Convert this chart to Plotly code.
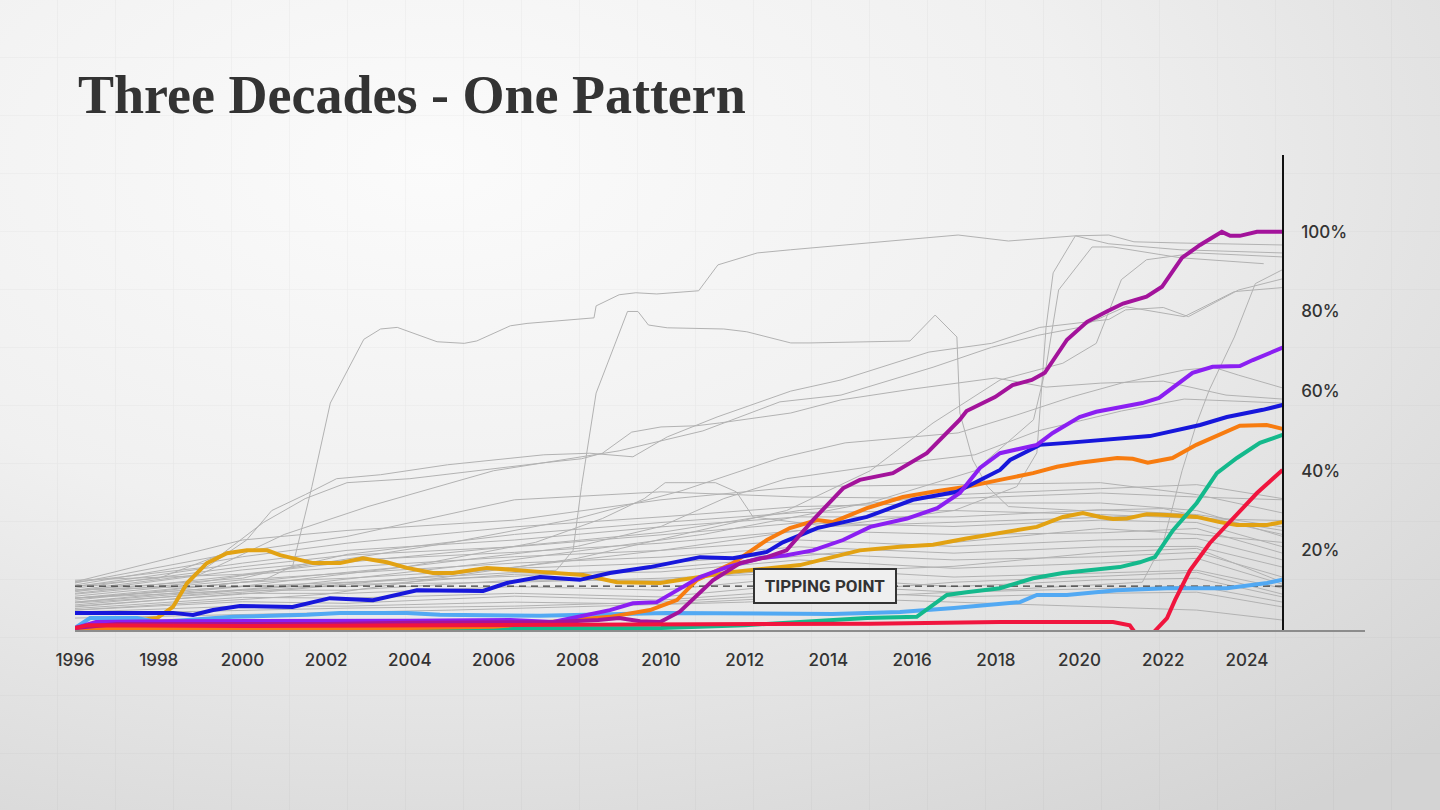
#!/usr/bin/env python3
"""Three decades of adoption curves, one highlighted pattern."""
from __future__ import annotations

import base64

import plotly.graph_objects as go

# ---- highlighted series (year, percent) ---------------------------------
MAGENTA_X = [1996, 1997, 1998, 1999, 2000, 2002, 2004, 2006, 2007.5, 2008.5, 2009.0, 2009.5,
             2009.98, 2010.45, 2011.24, 2011.89, 2012.53, 2013.0, 2013.63, 2014.35, 2014.75,
             2015.54, 2016.35, 2017.14, 2017.3, 2017.98, 2018.4, 2018.86, 2019.17, 2019.7,
             2020.18, 2020.65, 2021.04, 2021.6, 2021.97, 2022.45, 2022.88, 2023.4, 2023.6,
             2023.83, 2024.24, 2024.85]
MAGENTA_Y = [0.5, 1.5, 1.5, 1.5, 1.5, 1.5, 1.8, 1.8, 2.0, 2.5, 3.0, 2.2,
             2.0, 4.6, 12.5, 16.8, 18.3, 20.0, 27.6, 35.6, 37.7,
             39.4, 44.4, 52.8, 55.0, 58.5, 61.5, 62.8, 64.6, 72.9,
             77.4, 80.0, 82.0, 83.7, 86.2, 93.5, 96.7, 100.0, 99.0,
             99.0, 100.0, 100.0]

VIOLET_X = [1996, 1996.5, 1998, 2000, 2004, 2006.4, 2007.42, 2008.78, 2009.33, 2009.9, 2010.38,
            2010.93, 2011.58, 2012.36, 2013.0, 2013.63, 2014.35, 2015.0, 2015.88, 2016.6,
            2017.14, 2017.62, 2018.1, 2018.98, 2019.36, 2020.0, 2020.4, 2020.95, 2021.5,
            2021.9, 2022.7, 2023.18, 2023.83, 2024.14, 2024.85]
VIOLET_Y = [0.5, 2.0, 2.2, 2.2, 2.3, 2.5, 2.0, 5.0, 6.7, 7.0, 10.0,
            13.3, 15.8, 18.0, 18.8, 20.0, 22.6, 25.9, 28.0, 30.6,
            34.4, 40.7, 44.4, 46.5, 49.5, 53.5, 54.8, 55.8, 57.0,
            58.3, 64.6, 66.1, 66.3, 67.8, 70.9]

BLUE_X = [1996, 1998.34, 1998.82, 1999.3, 1999.94, 2001.2, 2002.09, 2003.12, 2004.17, 2005.75,
          2006.32, 2007.11, 2008.06, 2008.78, 2009.74, 2010.29, 2010.93, 2011.72, 2012.53,
          2012.91, 2013.73, 2014.92, 2016.02, 2017.07, 2018.1, 2018.34, 2019.05, 2019.7,
          2021.68, 2022.88, 2023.52, 2024.38, 2024.85]
BLUE_Y = [4.3, 4.3, 3.8, 5.0, 6.0, 5.8, 8.0, 7.5, 10.0, 9.8,
          11.8, 13.3, 12.6, 14.3, 15.8, 17.0, 18.3, 18.0, 19.6,
          22.0, 25.6, 28.4, 32.7, 34.7, 40.2, 42.7, 46.5, 47.0,
          48.7, 51.5, 53.5, 55.3, 56.5]

ORANGE_X = [1996, 2000, 2004, 2006, 2007.42, 2008.78, 2009.74, 2010.38, 2010.86, 2011.72,
            2012.53, 2013.08, 2013.73, 2014.1, 2014.92, 2015.78, 2016.5, 2017.3, 2018.1,
            2018.89, 2019.46, 2020.0, 2020.9, 2021.27, 2021.63, 2022.22, 2022.79, 2023.34,
            2023.83, 2024.47, 2024.85]
ORANGE_Y = [0.3, 0.3, 0.5, 0.8, 2.0, 3.3, 5.0, 7.5, 12.6, 16.8,
            22.6, 25.6, 27.6, 27.1, 30.6, 33.4, 34.7, 36.0, 37.7,
            39.4, 41.0, 42.0, 43.2, 43.0, 42.0, 43.2, 46.5, 49.0,
            51.3, 51.5, 50.5]

TEAL_X = [1996, 2004, 2010, 2012, 2013.32, 2014.92, 2016.11, 2016.83, 2017.3, 2018.1, 2018.89,
          2019.6, 2020.96, 2021.44, 2021.8, 2022.23, 2022.8, 2023.28, 2023.76, 2024.31, 2024.85]
TEAL_Y = [0.2, 0.3, 0.5, 1.2, 2.0, 3.0, 3.3, 8.8, 9.5, 10.5, 13.0,
          14.3, 15.8, 17.0, 18.3, 25.0, 31.9, 39.4, 43.2, 47.0, 49.0]

RED_X = [1996, 1996.3, 2000, 2005, 2010, 2015, 2018.1, 2020.8, 2021.2, 2021.45, 2021.6,
         2022.09, 2022.28, 2022.64, 2023.11, 2023.66, 2024.24, 2024.85]
RED_Y = [0.5, 1.2, 1.0, 1.2, 1.3, 1.6, 2.0, 2.0, 1.2, -2.5, -2.5,
         3.0, 7.5, 15.0, 21.8, 28.0, 34.4, 40.2]

GOLD_X = [1996, 1997.96, 1998.34, 1998.68, 1999.15, 1999.63, 2000.11, 2000.59, 2000.9, 2001.69,
          2002.33, 2002.88, 2003.45, 2003.93, 2004.55, 2005.03, 2005.84, 2006.32, 2007.11,
          2008.14, 2008.95, 2009.98, 2010.52, 2011.72, 2013.32, 2014.1, 2014.75, 2015.71,
          2016.5, 2017.3, 2018.1, 2018.98, 2019.6, 2020.08, 2020.49, 2020.8, 2021.13,
          2021.61, 2022.09, 2022.8, 2023.35, 2023.76, 2024.48, 2024.85]
GOLD_Y = [0.5, 3.0, 5.8, 11.8, 16.8, 19.3, 20.0, 20.0, 18.8, 16.8,
          16.8, 18.0, 17.0, 15.6, 14.3, 14.3, 15.6, 15.3, 14.6,
          13.8, 12.0, 11.8, 12.6, 14.6, 16.3, 18.3, 20.0, 20.9,
          21.4, 23.0, 24.4, 25.9, 28.4, 29.4, 28.4, 27.9, 28.0,
          29.1, 28.9, 28.4, 27.1, 26.4, 26.4, 27.1]

SKY_X = [1996, 1996.36, 1997.48, 1997.96, 1998.68, 1999.77, 2001.54, 2002.33, 2003.93, 2004.72,
         2007.11, 2008.5, 2010.14, 2014.1, 2015.71, 2017.0, 2018.1, 2018.58, 2018.98, 2019.7,
         2020.89, 2022.09, 2023.52, 2024.48, 2024.85]
SKY_Y = [0.5, 3.0, 3.0, 2.0, 2.5, 3.3, 3.8, 4.3, 4.3, 3.8,
         3.6, 4.0, 4.3, 4.0, 4.5, 5.5, 6.7, 7.0, 8.8, 8.8,
         10.0, 10.5, 10.5, 11.8, 12.6]

# ---- background (grey) series -------------------------------------------
BAND_YEARS = [1996, 2000, 2002.5, 2006.5, 2010, 2013.3, 2017, 2020.5, 2022.8, 2024.85]
BAND_VALUES = [
    [12.1, 22.6, 25.0, 27.6, 32.7, 36.0, 36.5, 37.0, 34.0, 29.4],
    [11.8, 19.7, 23.5, 32.7, 34.7, 33.4, 33.0, 34.4, 33.4, 32.7],
    [11.3, 18.4, 21.8, 25.9, 28.4, 31.0, 31.9, 31.9, 30.0, 23.5],
    [10.9, 16.8, 20.0, 22.6, 25.9, 28.4, 28.4, 30.2, 29.0, 25.9],
    [10.5, 15.9, 18.8, 20.9, 23.9, 26.9, 26.0, 27.6, 27.0, 20.9],
    [9.6, 15.1, 17.5, 19.5, 21.8, 25.0, 24.0, 24.4, 25.5, 19.3],
    [9.2, 13.8, 15.8, 18.4, 20.0, 22.6, 21.0, 22.6, 23.0, 17.6],
    [8.5, 12.6, 14.3, 16.8, 18.3, 20.9, 19.3, 20.9, 21.0, 15.8],
    [7.5, 12.0, 13.0, 15.5, 16.8, 19.3, 17.6, 18.4, 19.5, 13.3],
    [7.0, 10.9, 10.9, 14.0, 14.6, 17.6, 15.5, 16.8, 18.0, 11.5],
    [6.3, 10.0, 10.0, 12.5, 12.5, 15.5, 13.3, 14.3, 15.0, 10.5],
    [5.8, 9.2, 9.2, 10.9, 10.0, 13.3, 10.9, 12.6, 13.0, 8.3],
    [5.4, 8.2, 8.0, 9.2, 8.3, 11.5, 9.5, 10.5, 11.0, 7.0],
    [5.0, 7.1, 6.7, 8.5, 7.5, 10.0, 8.3, 9.2, 9.5, 5.8],
    [4.5, 6.0, 6.0, 7.0, 6.5, 8.3, 7.0, 5.8, 5.0, 2.5],
    [12.5, 14.0, 17.0, 21.0, 24.5, 30.0, 34.0, 35.5, 36.5, 33.0],
    [10.0, 13.0, 19.0, 24.0, 27.0, 29.5, 30.0, 29.0, 28.0, 27.5],
    [8.0, 11.0, 12.0, 13.5, 15.5, 18.5, 22.0, 25.5, 24.0, 22.0],
    [6.8, 9.5, 11.5, 12.0, 13.0, 14.5, 16.0, 19.5, 20.5, 12.0],
    [4.0, 5.0, 5.5, 6.0, 7.0, 9.0, 12.0, 13.5, 14.5, 9.0],
]

UPPER_LINES = [
    ([1996, 1999, 2000.5, 2001.2, 2001.66, 2002.1, 2002.9, 2003.3, 2003.7, 2004.65, 2005.3, 2005.6,
      2006.4, 2006.8, 2008.4, 2008.45, 2009.0, 2009.4, 2009.9, 2010.9, 2011.36, 2012.3, 2013.1,
      2014.4, 2017.1, 2018.3, 2019.9, 2020.7, 2021.3, 2022.4, 2024.85],
     [10, 11, 12.5, 16, 36, 57, 73, 75.6, 76, 72.4, 72, 72.6,
      76.4, 77, 78.4, 81.4, 84.2, 84.7, 84.4, 85.2, 91.7, 94.7, 95.5,
      96.7, 99.2, 97.7, 99, 99.2, 97.5, 97.2, 96.7]),
    ([1996, 2000, 2004, 2007.5, 2007.9, 2008.1, 2008.45, 2009.2, 2009.45, 2009.7, 2010.15, 2011.5,
      2012.05, 2013.1, 2013.56, 2015.95, 2016.55, 2017.07, 2017.14, 2017.45, 2017.8, 2018.3,
      2020, 2022, 2024.85],
     [8, 10, 13, 15, 20, 36, 59.5, 80, 80, 76.6, 75.9, 75.6,
      74.9, 72.1, 72.1, 72.6, 79.1, 73.6, 54.5, 42.7, 36, 31,
      30, 30.5, 24]),
    ([1996, 1999.15, 2000.1, 2000.7, 2001.5, 2002.25, 2003.3, 2004.9, 2007.2, 2008.3, 2009.33,
      2010.15, 2011.34, 2013.1, 2014.3, 2016.4, 2017.9, 2019.05, 2020.7, 2021.1, 2022, 2022.6,
      2023.8, 2024.85],
     [12, 15.8, 22.6, 30, 34, 38, 39, 41.5, 44, 44.4, 43.5,
      48.5, 53.5, 60, 62.8, 69.8, 72, 76, 78, 80.4, 81, 78.7,
      85.4, 88.2]),
    ([1996, 1998, 1999.5, 2000.5, 2001.5, 2002.5, 2004, 2006.1, 2007.2, 2008.1, 2008.6, 2009.3,
      2010, 2010.85, 2011.4, 2013.1, 2014.3, 2016, 2018, 2019.2, 2020.5, 2022, 2023.5, 2024.85],
     [11, 13, 19, 27, 33, 37, 38, 40.7, 42, 43, 44.4, 49.7,
      51, 51.3, 52, 54.5, 57.8, 60.5, 63.3, 61, 62, 62.5, 59, 58]),
    ([1996, 2000, 2005, 2010, 2014, 2017, 2018.5, 2018.98, 2019.2, 2019.37, 2019.9, 2020.7,
      2022.4, 2024.85],
     [6, 9, 14, 20, 26, 30, 36, 44.5, 76, 89.7, 99, 97, 95.5, 94.7]),
    ([1996, 2001, 2006, 2011, 2015, 2017.5, 2018.9, 2019.2, 2019.5, 2020.3, 2020.8, 2022.4, 2024.4],
     [7, 11, 17, 24, 32, 40, 52.8, 66, 85.4, 96.2, 96.2, 93.5, 92]),
    ([1996, 2002, 2008, 2013, 2015, 2016.5, 2018.1, 2019.6, 2020.4, 2021.0, 2021.6, 2022.8, 2024.85],
     [5, 9, 18, 30, 40, 52, 62.8, 67, 72, 88, 93, 94.7, 93.7]),
    ([1996, 1999, 2001, 2003, 2006, 2009, 2011, 2012.84, 2014.3, 2016.5, 2017.9, 2019, 2020,
      2021.1, 2022.5, 2023.7, 2024.85],
     [10, 14, 24, 31, 40, 45, 50, 57.3, 59, 66, 71, 74, 76, 81.2, 78.7, 85, 86]),
    ([1996, 2005, 2012, 2018, 2021.5, 2022.0, 2022.45, 2022.8, 2023.1, 2023.7, 2024.2, 2024.85],
     [3, 5, 7, 10, 12, 22, 40, 52, 60.3, 73.6, 87, 90.5]),
    ([1996, 1999, 2002, 2005, 2008, 2010.5, 2012.84, 2014.4, 2017.1, 2018.5, 2019.8, 2021,
      2022.5, 2023.2, 2023.8, 2024.85],
     [9, 12, 17, 22, 28, 35, 43.2, 47, 49.5, 54, 58.5, 62, 65.3, 66, 64, 60.8]),
    ([1996, 2000, 2004, 2008, 2010, 2011.5, 2013, 2015, 2017.5, 2019, 2021, 2022.5, 2024.85],
     [8, 12, 16, 21, 26, 33, 38, 41, 44, 50, 55, 58, 57]),
    ([1996, 2000, 2004, 2007, 2008.6, 2009.6, 2010.1, 2011.3, 2011.8, 2012.2, 2014, 2017, 2020,
      2022.5, 2024.85],
     [8, 11, 16, 22, 28, 33, 37, 37, 34.7, 28.4, 26, 27, 28, 29, 25]),
]

TIPPING_POINT = 11
LAST_YEAR = 2024.85
X_TICKS = list(range(1996, 2025, 2))
Y_TICKS = [20, 40, 60, 80, 100]
Y_TICK_TEXT = ["20%", "40%", "60%", "80%", "100%"]

HIGHLIGHTS = [
    ("gold", GOLD_X, GOLD_Y, "#e2a213"),
    ("sky", SKY_X, SKY_Y, "#52a9f3"),
    ("teal", TEAL_X, TEAL_Y, "#14b98c"),
    ("orange", ORANGE_X, ORANGE_Y, "#f77c10"),
    ("blue", BLUE_X, BLUE_Y, "#1717db"),
    ("violet", VIOLET_X, VIOLET_Y, "#8b1ff2"),
    ("magenta", MAGENTA_X, MAGENTA_Y, "#a3139b"),
    ("red", RED_X, RED_Y, "#f0153e"),
]


def paper_texture() -> str:
    svg = (
        "<svg xmlns='http://www.w3.org/2000/svg' width='1440' height='810' viewBox='0 0 1440 810'>"
        "<defs><radialGradient id='g' cx='0.3' cy='0.2' r='1.0'>"
        "<stop offset='0' stop-color='#fbfbfb'/><stop offset='0.45' stop-color='#f0f0f0'/>"
        "<stop offset='1' stop-color='#d3d3d3'/></radialGradient>"
        "<pattern id='p' width='58' height='58' patternUnits='userSpaceOnUse'>"
        "<path d='M58 0 V58 H0' fill='none' stroke='#000' stroke-opacity='0.045' stroke-width='1.2'/>"
        "</pattern></defs>"
        "<rect width='1440' height='810' fill='url(#g)'/>"
        "<rect width='1440' height='810' fill='url(#p)'/></svg>"
    )
    return "data:image/svg+xml;base64," + base64.b64encode(svg.encode()).decode()


def build() -> go.Figure:
    fig = go.Figure()
    grey = dict(color="#b2b2b2", width=1)

    for values in BAND_VALUES:
        fig.add_trace(go.Scatter(x=BAND_YEARS, y=values, mode="lines", line=grey, hoverinfo="skip"))
    for xs, ys in UPPER_LINES:
        fig.add_trace(go.Scatter(x=xs, y=ys, mode="lines", line=grey, hoverinfo="skip"))

    fig.add_trace(
        go.Scatter(
            x=[1996, LAST_YEAR],
            y=[TIPPING_POINT, TIPPING_POINT],
            mode="lines",
            line=dict(color="#3a3a3a", width=1.3, dash="7px,5px"),
            hoverinfo="skip",
        )
    )

    for name, xs, ys, color in HIGHLIGHTS:
        fig.add_trace(
            go.Scatter(
                x=xs,
                y=ys,
                name=name,
                mode="lines",
                line=dict(color=color, width=4),
                hovertemplate="%{x:.1f}: %{y:.1f}%<extra></extra>",
            )
        )

    fig.add_annotation(
        x=2013.92,
        y=TIPPING_POINT,
        text="<b>TIPPING POINT</b>",
        showarrow=False,
        font=dict(family="Roboto, Arial, sans-serif", size=17, color="#333333"),
        bgcolor="#efefef",
        bordercolor="#333333",
        borderwidth=2,
        borderpad=6,
        width=128,
        height=20,
    )

    plot_w, plot_h = 1290, 475
    fig.add_layout_image(
        source=paper_texture(),
        xref="paper",
        yref="paper",
        x=-75 / plot_w,
        y=1 + 155 / plot_h,
        sizex=1440 / plot_w,
        sizey=810 / plot_h,
        xanchor="left",
        yanchor="top",
        sizing="stretch",
        layer="below",
    )

    fig.update_layout(
        width=1440,
        height=810,
        showlegend=False,
        paper_bgcolor="#f0f0f0",
        plot_bgcolor="rgba(0,0,0,0)",
        margin=dict(l=75, r=75, t=155, b=180),
        font=dict(family="Inter, Lato, sans-serif", size=17, color="#333333"),
        title=dict(
            text="Three Decades - One Pattern",
            font=dict(family="Liberation Serif, serif", size=54, color="#333333", weight=700),
            x=78 / 1440,
            xanchor="left",
            y=1 - 94 / 810,
            yanchor="middle",
        ),
    )
    fig.update_xaxes(
        range=[1996, 2026.82],
        tickvals=X_TICKS,
        showgrid=False,
        zeroline=False,
        showline=True,
        linecolor="#8c8c8c",
        linewidth=1.5,
        ticks="",
        ticklabelstandoff=14,
        tickfont=dict(size=17, color="#333333", weight=500),
    )
    fig.update_yaxes(
        range=[0, 119.3],
        tickvals=Y_TICKS,
        ticktext=Y_TICK_TEXT,
        side="right",
        anchor="free",
        position=(1283 - 75) / plot_w,
        showgrid=False,
        zeroline=False,
        showline=True,
        linecolor="#111111",
        linewidth=1.5,
        ticks="",
        ticklabelstandoff=14,
        tickfont=dict(size=17, color="#333333", weight=500),
    )
    return fig


def main() -> None:
    fig = build()
    fig.write_html(
        "out.html",
        config={"displayModeBar": False},
        post_script="document.body.style.margin='0';document.body.style.overflow='hidden';",
    )


if __name__ == "__main__":
    main()
